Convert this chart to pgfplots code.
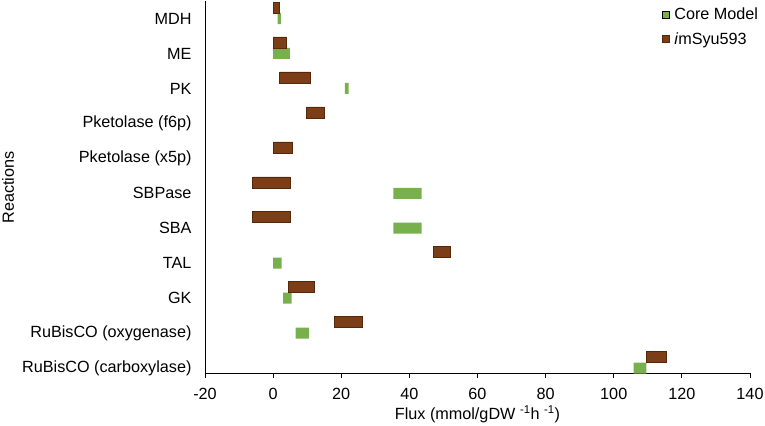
\documentclass[border=0pt]{standalone}
\usepackage{pgfplots}
\pgfplotsset{compat=1.18}
\usepackage{pgfplotstable}
\usepackage{fontspec}
\setmainfont{Liberation Sans}
\definecolor{coregreen}{RGB}{120,176,78}
\definecolor{imbrown}{RGB}{123,62,22}
\definecolor{imedge}{RGB}{85,40,12}

% category index: 0 = RuBisCO (carboxylase) ... 10 = MDH ; s = start, e = end of flux range
\pgfplotstableread{
y s e
10 1.35 2.24
9 0 4.9
8 21.1 22.2
5 35.3 43.6
4 35.3 43.6
3 0 2.5
2 2.9 5.4
1 6.6 10.5
0 105.8 109.6
}\coretable

\pgfplotstableread{
y s e
10 0 1.8
9 0 3.8
8 1.9 11.0
7 9.8 15.1
6 0 5.7
5 -6.0 4.9
4 -6.0 4.9
3 47.1 52.1
2 4.5 12.1
1 18.0 26.2
0 109.5 115.4
}\imtable

\pgfplotsset{
  common/.style={
    width=545bp, height=371.8bp, scale only axis,
    xmin=-20, xmax=140, ymin=-0.309, ymax=10.33,
    xbar stacked, stack negative=on previous, bar width=0.315,
    font=\fontsize{16.2bp}{19bp}\selectfont,
  }
}

\begin{document}
\begin{tikzpicture}
\begin{axis}[
  common,
  name=main,
  axis x line*=bottom, axis y line*=left,
  axis line style={-, line width=0.8bp, black},
  xtick={-20,0,20,40,60,80,100,120,140},
  tick align=outside,
  major tick length=5bp,
  xtick style={line width=0.8bp, black},
  ytick style={draw=none},
  ytick={-0.1575,0.8425,1.8425,2.8425,3.8425,4.8425,5.8425,6.8425,7.8425,8.8425,9.8425},
  yticklabels={RuBisCO (carboxylase),RuBisCO (oxygenase),GK,TAL,SBA,SBPase,Pketolase (x5p),Pketolase (f6p),PK,ME,MDH},
  yticklabel style={xshift=-5bp},
  xticklabel style={yshift=-6bp},
  /pgf/number format/assume math mode=true,
  xlabel={Flux (mmol/gDW \textsuperscript{-1}h \textsuperscript{-1})},
  xlabel style={at={(axis description cs:0.5,-0.11)}, anchor=center},
  ylabel={Reactions},
  ylabel style={at={(axis description cs:-0.3615,0.5)}, anchor=center},
  legend style={at={(axis description cs:0.838,0.992)}, anchor=north west,
    draw=none, fill=none, inner sep=0pt, row sep=5.4bp,
    nodes={inner ysep=3bp, inner xsep=4.5bp},
    cells={anchor=west}, font=\fontsize{16.2bp}{19bp}\selectfont},
]
\addplot[draw=none, fill=none, forget plot]
  table[x=s, y expr=\thisrow{y}-0.1575]{\coretable};
\addplot[fill=coregreen, draw=none, forget plot]
  table[x expr=\thisrow{e}-\thisrow{s}, y expr=\thisrow{y}-0.1575]{\coretable};
\addlegendimage{legend image code/.code={\path[fill=coregreen] (0bp,-3.5bp) rectangle (7.5bp,3.5bp);}}
\addlegendentry{Core Model}
\addlegendimage{legend image code/.code={\path[fill=imbrown, draw=imedge, line width=0.4bp] (0bp,-3.5bp) rectangle (7.5bp,3.5bp);}}
\addlegendentry{\textit{i}mSyu593}
\end{axis}

\begin{axis}[common, hide axis]
\addplot[draw=none, fill=none, forget plot]
  table[x=s, y expr=\thisrow{y}+0.1575]{\imtable};
\addplot[fill=imbrown, draw=imedge, line width=0.5bp, forget plot]
  table[x expr=\thisrow{e}-\thisrow{s}, y expr=\thisrow{y}+0.1575]{\imtable};
\end{axis}

\pgfresetboundingbox
\path[use as bounding box] ([shift={(-205bp,-52.7bp)}]main.south west) rectangle ([shift={(15bp,1.5bp)}]main.north east);
\end{tikzpicture}
\end{document}
